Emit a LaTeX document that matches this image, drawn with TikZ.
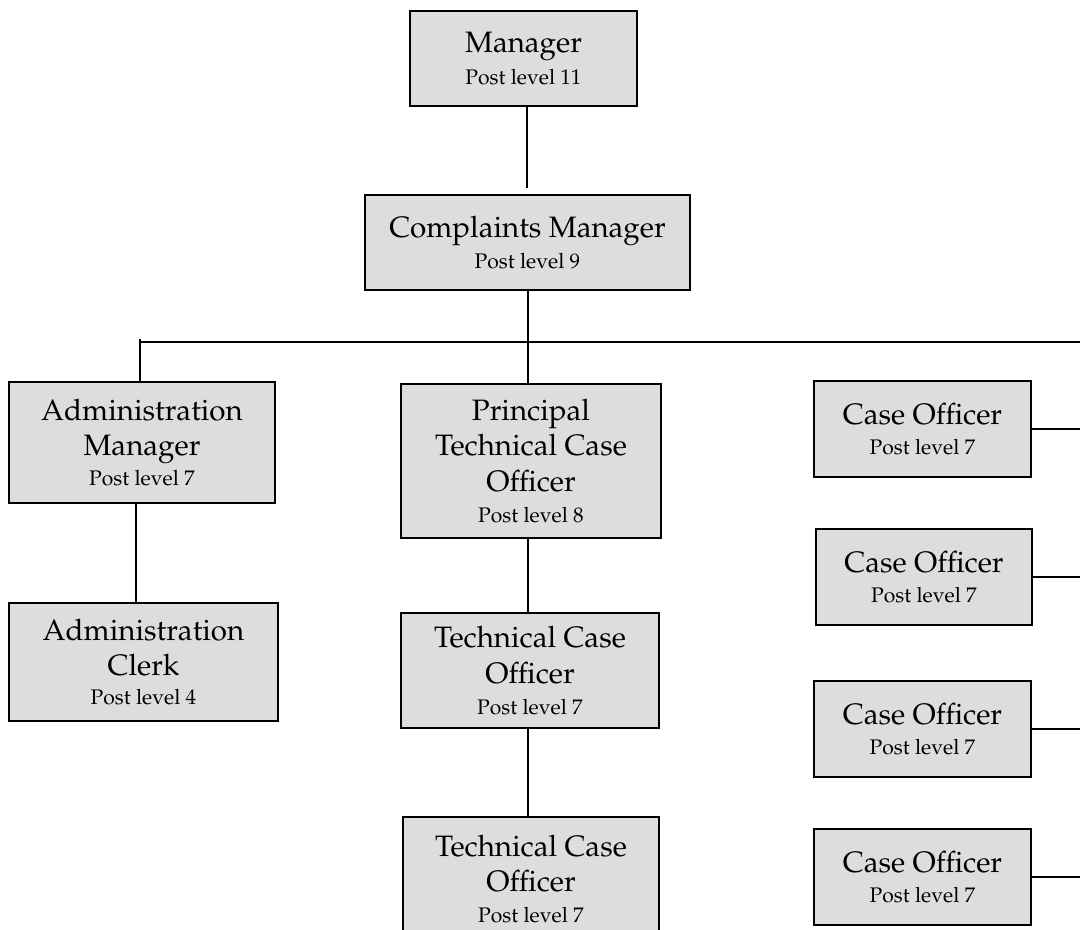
\documentclass[tikz,border=0pt]{standalone}
\usepackage[T1]{fontenc}
\usepackage{mathpazo}
\tikzset{
  box/.style 2 args={draw=black, line width=1.4pt, fill=boxgray, inner sep=0pt,
    minimum width=#1*0.025cm, minimum height=#2*0.025cm, align=center,
    font=\fontsize{21}{25}\selectfont},
  conn/.style={line width=1.3pt},
}
\definecolor{boxgray}{HTML}{DDDDDD}
\newcommand{\pl}[1]{{\fontsize{15}{18}\selectfont #1}}
\begin{document}
\begin{tikzpicture}[x=0.025cm, y=-0.025cm]
\useasboundingbox (0,0) rectangle (1080,929);
\clip (0,0) rectangle (1080,929);
\fill[white] (0,0) rectangle (1080,929);
% nodes
\node[box={227}{95}]  (mgr)  at (523.5,58.5) {Manager\\[-2pt]\pl{Post level 11}};
\node[box={325}{95}]  (cm)   at (527.5,242.5) {Complaints Manager\\[-3pt]\pl{Post level 9}};
\node[box={266}{121}] (am)   at (142,442.5) {Administration\\Manager\\[-4pt]\pl{Post level 7}};
\node[box={269}{118}] (ac)   at (143.5,662) {Administration\\Clerk\\[-4pt]\pl{Post level 4}};
\node[box={260}{154}] (ptco) at (531,461) {Principal\\Technical Case\\Officer\\[-3pt]\pl{Post level 8}};
\node[box={258}{115}] (tcoa) at (530,670.5) {Technical Case\\Officer\\[-3pt]\pl{Post level 7}};
\node[box={256}{124}] (tcob) at (531,879) {Technical Case\\Officer\\[-3pt]\pl{Post level 7}};
\node[box={217}{96}]  (coa)  at (922.5,429) {Case Officer\\[-4pt]\pl{Post level 7}};
\node[box={216}{96}]  (cob)  at (924,577) {Case Officer\\[-4pt]\pl{Post level 7}};
\node[box={217}{96}]  (coc)  at (922.5,729) {Case Officer\\[-4pt]\pl{Post level 7}};
\node[box={217}{96}]  (cod)  at (922.5,877) {Case Officer\\[-4pt]\pl{Post level 7}};
% bus coordinates
\coordinate (busL) at (140,342);
\coordinate (busM) at (528,342);
\coordinate (busR) at (1100,342);
% connectors
\draw[line width=0.9pt, shorten >=4] ([xshift=2.5]mgr.south) -- ([xshift=2.5]mgr.south |- cm.north);
\draw[conn] (cm.south -| busM) -- (busM);
\draw[conn] (busL) -- (busR);
\draw[conn] ([yshift=2pt]busL) -- (busL |- am.north);
\draw[conn] (busM) -- (busM |- ptco.north);
\draw[conn] ([xshift=-4]am.south) -- ([xshift=-4]am.south |- ac.north);
\draw[conn] (ptco.south -| busM) -- (busM |- tcoa.north);
\draw[conn] (tcoa.south -| busM) -- (busM |- tcob.north);
\draw[conn] (coa.east) -- (coa.east -| busR);
\draw[conn] (cob.east) -- (cob.east -| busR);
\draw[conn] (coc.east) -- (coc.east -| busR);
\draw[conn] (cod.east) -- (cod.east -| busR);
\end{tikzpicture}
\end{document}
